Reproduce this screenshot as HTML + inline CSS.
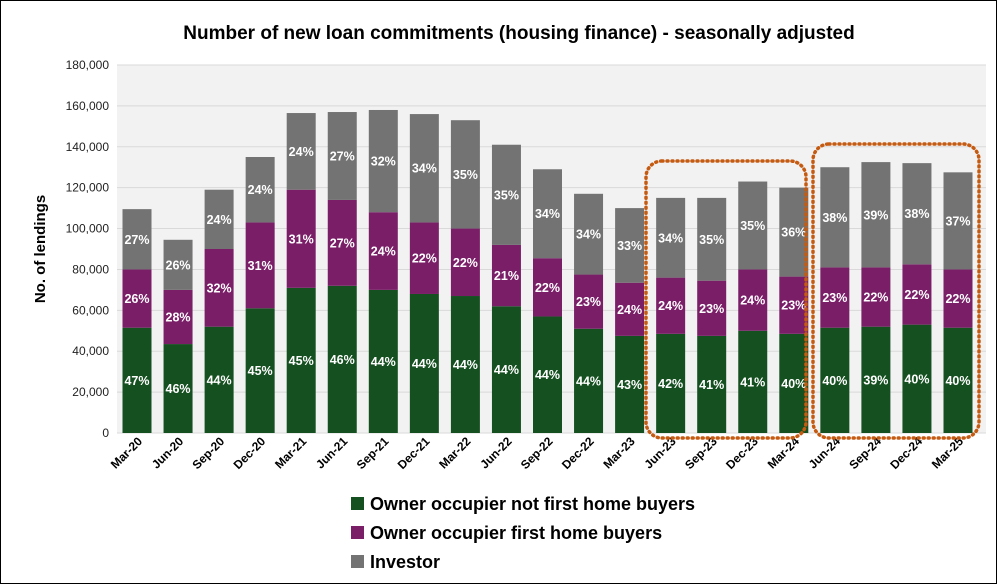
<!DOCTYPE html>
<html><head><meta charset="utf-8"><style>
body{margin:0;background:#fff;font-family:"Liberation Sans",sans-serif}
#wrap{position:relative;width:995px;height:582px;border:1px solid #000;overflow:hidden}
svg text{font-family:"Liberation Sans",sans-serif}
</style></head><body>
<div id="wrap">
<svg id="chart" width="995" height="582">
<text x="518" y="38" text-anchor="middle" font-size="19" font-weight="bold">Number of new loan commitments (housing finance) - seasonally adjusted</text>
<text transform="translate(44,248) rotate(-90)" text-anchor="middle" font-size="15" font-weight="bold">No. of lendings</text>
<rect x="116" y="64" width="869" height="368" fill="#f2f2f2"/>
<g id="grid"></g><g id="bars"></g><g id="xlabels"></g>
<rect x="645" y="160" width="160" height="277" rx="16" fill="none" stroke="#c55a11" stroke-width="3.5" stroke-dasharray="1 4" stroke-linecap="round"/>
<rect x="812" y="143" width="166" height="294" rx="16" fill="none" stroke="#c55a11" stroke-width="3.5" stroke-dasharray="1 4" stroke-linecap="round"/>
<g>
<rect x="350" y="496" width="13" height="13" fill="#155020"/>
<text x="369" y="509" font-size="18" font-weight="bold">Owner occupier not first home buyers</text>
<rect x="350" y="525" width="13" height="13" fill="#7a1e68"/>
<text x="369" y="538" font-size="18" font-weight="bold">Owner occupier first home buyers</text>
<rect x="350" y="554" width="13" height="13" fill="#737373"/>
<text x="369" y="567" font-size="18" font-weight="bold">Investor</text>
</g>
</svg></div>
<script>
const categories=["Mar-20","Jun-20","Sep-20","Dec-20","Mar-21","Jun-21","Sep-21","Dec-21","Mar-22","Jun-22","Sep-22","Dec-22","Mar-23","Jun-23","Sep-23","Dec-23","Mar-24","Jun-24","Sep-24","Dec-24","Mar-25"];
const ownerNonFhb=[51.5,43.5,52,61,71,72,70,68,67,62,57,51,47.5,48.5,47.5,50,48.5,51.5,52,53,51.5];
const ownerFhb=[28.5,26.5,38,42,48,42,38,35,33,30,28.5,26.5,26,27.5,27,30,28,29.5,29,29.5,28.5];
const investor=[29.5,24.5,29,32,37.5,43,50,53,53,49,43.5,39.5,36.5,39,40.5,43,43.5,49,51.5,49.5,47.5];
const yTicks=[0,20000,40000,60000,80000,100000,120000,140000,160000,180000];
const ns="http://www.w3.org/2000/svg";
const y0=432,y1=64,yMax=180;
function yScale(v){return y0-(v/yMax)*(y0-y1);}
function xCenter(i){return 136+i*41.05;}
const bw=29;
function mk(tag,attrs,parent){const e=document.createElementNS(ns,tag);for(const k in attrs)e.setAttribute(k,attrs[k]);parent.appendChild(e);return e;}
const grid=document.getElementById('grid'),bars=document.getElementById('bars'),xl=document.getElementById('xlabels');
yTicks.forEach(t=>{
 const y=yScale(t/1000);
 const l=mk('line',{x1:116,x2:985,y1:y,y2:y,stroke:'#d9d9d9','stroke-width':1},grid);
 
 
 const tx=mk('text',{x:108,y:y+4,'text-anchor':'end','font-size':12,fill:'#222'},grid);
 tx.textContent=t.toLocaleString('en-US');
 
 
});
const series=[[ownerNonFhb,'#155020','owner-nonfhb'],[ownerFhb,'#7a1e68','owner-fhb'],[investor,'#737373','investor']];
categories.forEach((c,i)=>{
 const total=ownerNonFhb[i]+ownerFhb[i]+investor[i];
 let base=0;const cx=xCenter(i);
 series.forEach(([arr,col,nm])=>{
  const v=arr[i];
  const yt=yScale(base+v),yb=yScale(base);
  const r=mk('rect',{x:cx-bw/2,y:yt,width:bw,height:yb-yt,fill:col},bars);
  
  
  const t=mk('text',{x:cx,y:(yt+yb)/2+4.5,'text-anchor':'middle','font-size':12.5,'font-weight':'bold',fill:'#fff'},bars);
  t.textContent=Math.round(v/total*100)+'%';
  
  
  base+=v;
 });
 const lb=mk('text',{transform:'translate('+(cx+6)+',441) rotate(-45)','text-anchor':'end','font-size':12,'font-weight':'bold'},xl);
 lb.textContent=c;
 
 
});
</script>
</body></html>
